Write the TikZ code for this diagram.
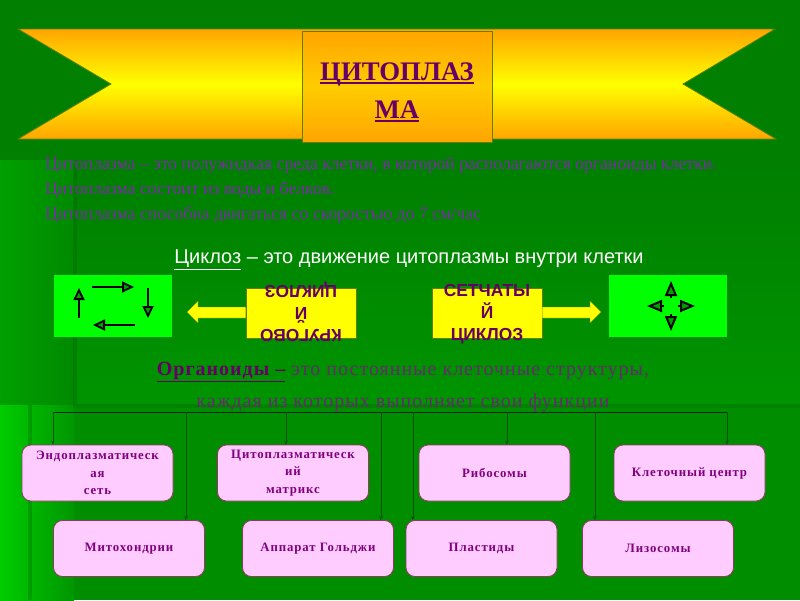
\documentclass[tikz,border=0pt]{standalone}
\usepackage{fontspec}
\setmainfont{Liberation Serif}
\setsansfont{Liberation Sans}
\newfontfamily\boxfont[LetterSpace=7]{Liberation Serif}
\newfontfamily\orgfont[LetterSpace=5]{Liberation Serif}
\usetikzlibrary{arrows.meta,calc}
\definecolor{bgdark}{HTML}{007F00}
\definecolor{bgmid}{HTML}{009400}
\definecolor{bgleft}{HTML}{00A000}
\definecolor{bgbright}{HTML}{00CC00}
\definecolor{barcol}{HTML}{006F00}
\definecolor{bandorange}{HTML}{FFA500}
\definecolor{bandyellow}{HTML}{FFFF00}
\definecolor{boxmid}{HTML}{FFCC00}
\definecolor{edgeolive}{HTML}{5F8000}
\definecolor{titlepurple}{HTML}{660066}
\definecolor{bodypurple}{HTML}{7A2BA8}
\definecolor{orgpurple}{HTML}{662A6E}
\definecolor{boxpurple}{HTML}{800080}
\definecolor{pinkfill}{HTML}{FFCCFF}
\definecolor{pinkedge}{HTML}{993366}
\definecolor{lime}{HTML}{00FF00}
\definecolor{tipgreen}{HTML}{00A000}
\definecolor{busline}{HTML}{002800}
\definecolor{dropline}{HTML}{005000}
\newlength\ulwidth
\newcommand\thickul[1]{\settowidth\ulwidth{#1}\rlap{\rule[-3.5pt]{\ulwidth}{2pt}}#1}
\newcommand\lowered[1]{\raisebox{-4pt}{#1}}
\tikzset{
  bodytext/.style={anchor=west,inner sep=0,text=bodypurple,font=\fontsize{17.7}{20}\selectfont},
  orgtext/.style={inner sep=0,text=orgpurple,font=\orgfont\fontsize{20}{22}\selectfont},
  organelle/.style={draw=pinkedge,line width=0.8pt,fill=pinkfill,rounded corners=9pt,
    minimum width=151pt,minimum height=56pt,inner sep=0,align=center,text=boxpurple,
    font=\boxfont\bfseries\fontsize{12.8}{17.5}\selectfont},
  limebox/.style={fill=lime,draw=none,minimum width=118pt,minimum height=62pt,inner sep=0},
  cyclelabel/.style={align=center,inner sep=0,text=titlepurple,
    font=\sffamily\bfseries\fontsize{17.4}{22}\selectfont},
  yellowbox/.style={fill=bandyellow,draw=edgeolive,line width=0.4pt,minimum width=110pt,minimum height=50pt,inner sep=0},
  motion/.style={draw=black,line width=2pt,-{Triangle[length=12pt,width=11pt,fill=tipgreen,line width=1.8pt]}},
  burst/.style={draw=black,line width=2pt,-{Triangle[length=15pt,width=12pt,fill=tipgreen,line width=2pt]}},
  drop/.style={draw=dropline,line width=0.7pt,-{Stealth[length=4pt,width=3.5pt]}}
}
\begin{document}
\begin{tikzpicture}[x=1pt,y=-1pt]
\useasboundingbox (0,0) rectangle (800,600);
% background
\fill[bgdark] (0,0) rectangle (800,160);
\shade[top color=bgdark,bottom color=bgmid] (0,160) rectangle (800,404);
\fill[bgdark!30!bgmid] (74,404) rectangle (800,600);
\shade[left color=bgleft,right color=bgdark!50!bgmid] (0,160) rectangle (74,405);
\shade[left color=bgbright,right color=bgleft!70!bgdark] (0,405) rectangle (74,600);
\fill[barcol,opacity=.45] (73,160) rectangle (77,404);
\fill[barcol,opacity=.35] (73,404) rectangle (800,408);
\fill[barcol,opacity=.35] (28,405) rectangle (32,600);
% ribbon
\shade[top color=bandorange,bottom color=bandorange,middle color=bandyellow]
  (18,29) -- (775,29) -- (683,84) -- (776,139) -- (18,139) -- (111,84) -- cycle;
\draw[edgeolive,line width=0.8pt] (18,29) -- (775,29) -- (683,84) -- (776,139) -- (18,139) -- (111,84) -- cycle;
\shade[top color=bandorange,bottom color=bandorange,middle color=boxmid] (302,31) rectangle (492,142);
\draw[edgeolive,line width=0.8pt] (302,31) rectangle (492,142);
\node[inner sep=0,align=center,text=titlepurple,font=\bfseries\fontsize{26.8}{38}\selectfont] (title) at (397,92)
  {\thickul{ЦИТОПЛАЗ}\\\thickul{МА}};
% paragraph
\node[bodytext] (p1) at (45,165.5) {Цитоплазма – это полужидкая среда клетки, в которой располагаются органоиды клетки.};
\node[bodytext] (p2) at (45,190) {Цитоплазма состоит из воды и белков.};
\node[bodytext] (p3) at (45,215.5) {Цитоплазма способна двигаться со скоростью до 7 см/час};
\node[inner sep=0,text=white,font=\sffamily\fontsize{20}{22}\selectfont] (cyc) at (409,260) {\underline{Циклоз} – это движение цитоплазмы внутри клетки};
% lime boxes
\node[limebox] (limeL) at (113,306) {};
\node[limebox] (limeR) at (667.5,306) {};
% big arrows
\node[yellowbox] (boxL) at (301,313) {};
\node[yellowbox] (boxR) at (487,313) {};
\fill[bandyellow,draw=edgeolive,line width=0.3pt] (boxL.west|-0,307) -- (198,307) -- (198,301) -- (187,312) -- (198,323) -- (198,318) -- (boxL.west|-0,318) -- cycle;
\fill[bandyellow,draw=edgeolive,line width=0.3pt] (boxR.east|-0,307) -- (590,307) -- (590,301) -- (601,312) -- (590,323) -- (590,318) -- (boxR.east|-0,318) -- cycle;
\node[cyclelabel,rotate=180] (labL) at (301,312) {КРУГОВО\\Й\\ЦИКЛОЗ};
\node[cyclelabel] (labR) at (487,314) {СЕТЧАТЫ\\Й\\ЦИКЛОЗ};
% circular arrows
\coordinate (ca1) at (79,318); \coordinate (ca2) at (79,288);
\coordinate (cb1) at (92,287); \coordinate (cb2) at (134,287);
\coordinate (cc1) at (148,288); \coordinate (cc2) at (148,318);
\coordinate (cd1) at (135,325); \coordinate (cd2) at (93,325);
\draw[motion] (ca1) -- (ca2);
\draw[motion] (cb1) -- (cb2);
\draw[motion] (cc1) -- (cc2);
\draw[motion] (cd1) -- (cd2);
% burst arrows
\coordinate (bc) at (671,306);
\draw[burst] ($(bc)+(0,-8)$) coordinate (n0) -- ($(bc)+(0,-25)$) coordinate (n1);
\draw[burst] ($(bc)+(0,8)$) coordinate (s0) -- ($(bc)+(0,25)$) coordinate (s1);
\draw[burst] ($(bc)+(-7,0)$) coordinate (w0) -- ($(bc)+(-24,0)$) coordinate (w1);
\draw[burst] ($(bc)+(7,0)$) coordinate (e0) -- ($(bc)+(24,0)$) coordinate (e1);
% organoid text
\node[orgtext] (o1) at (403,372) {{\bfseries\textcolor{titlepurple}{\underline{Органоиды –}}} это постоянные клеточные структуры,};
\node[orgtext] (o2) at (403,403) {каждая из которых выполняет свои функции};
% organelle boxes
\node[organelle] (er) at (97.5,473) {Эндоплазматическ\\ая\\сеть};
\node[organelle] (cm) at (293,473) {Цитоплазматическ\\ий\\матрикс};
\node[organelle] (rb) at (494.5,473) {\lowered{Рибосомы}};
\node[organelle] (cc) at (689.5,473) {\lowered{Клеточный центр}};
\node[organelle] (mt) at (129,548.5) {\lowered{Митохондрии}};
\node[organelle] (gl) at (318,548.5) {\lowered{Аппарат Гольджи}};
\node[organelle] (pl) at (481.5,548.5) {\lowered{Пластиды}};
\node[organelle] (ly) at (658,548.5) {\lowered{Лизосомы}};
% bus
\coordinate (busL) at (53,412); \coordinate (busR) at (727,412);
\draw[busline,line width=1pt] (busL) -- (busR);
\draw[drop] (busL) -- (busL|-er.north);
\draw[drop] (186,412) coordinate (t2) -- (t2|-mt.north);
\draw[drop] (286,412) coordinate (t3) -- (t3|-cm.north);
\draw[drop] (381,412) coordinate (t4) -- (t4|-gl.north);
\draw[drop] (413,412) coordinate (t5) -- (t5|-pl.north);
\draw[drop] (507,412) coordinate (t6) -- (t6|-rb.north);
\draw[drop] (595,412) coordinate (t7) -- (t7|-ly.north);
\draw[drop] (busR) -- (busR|-cc.north);
\end{tikzpicture}
\end{document}
